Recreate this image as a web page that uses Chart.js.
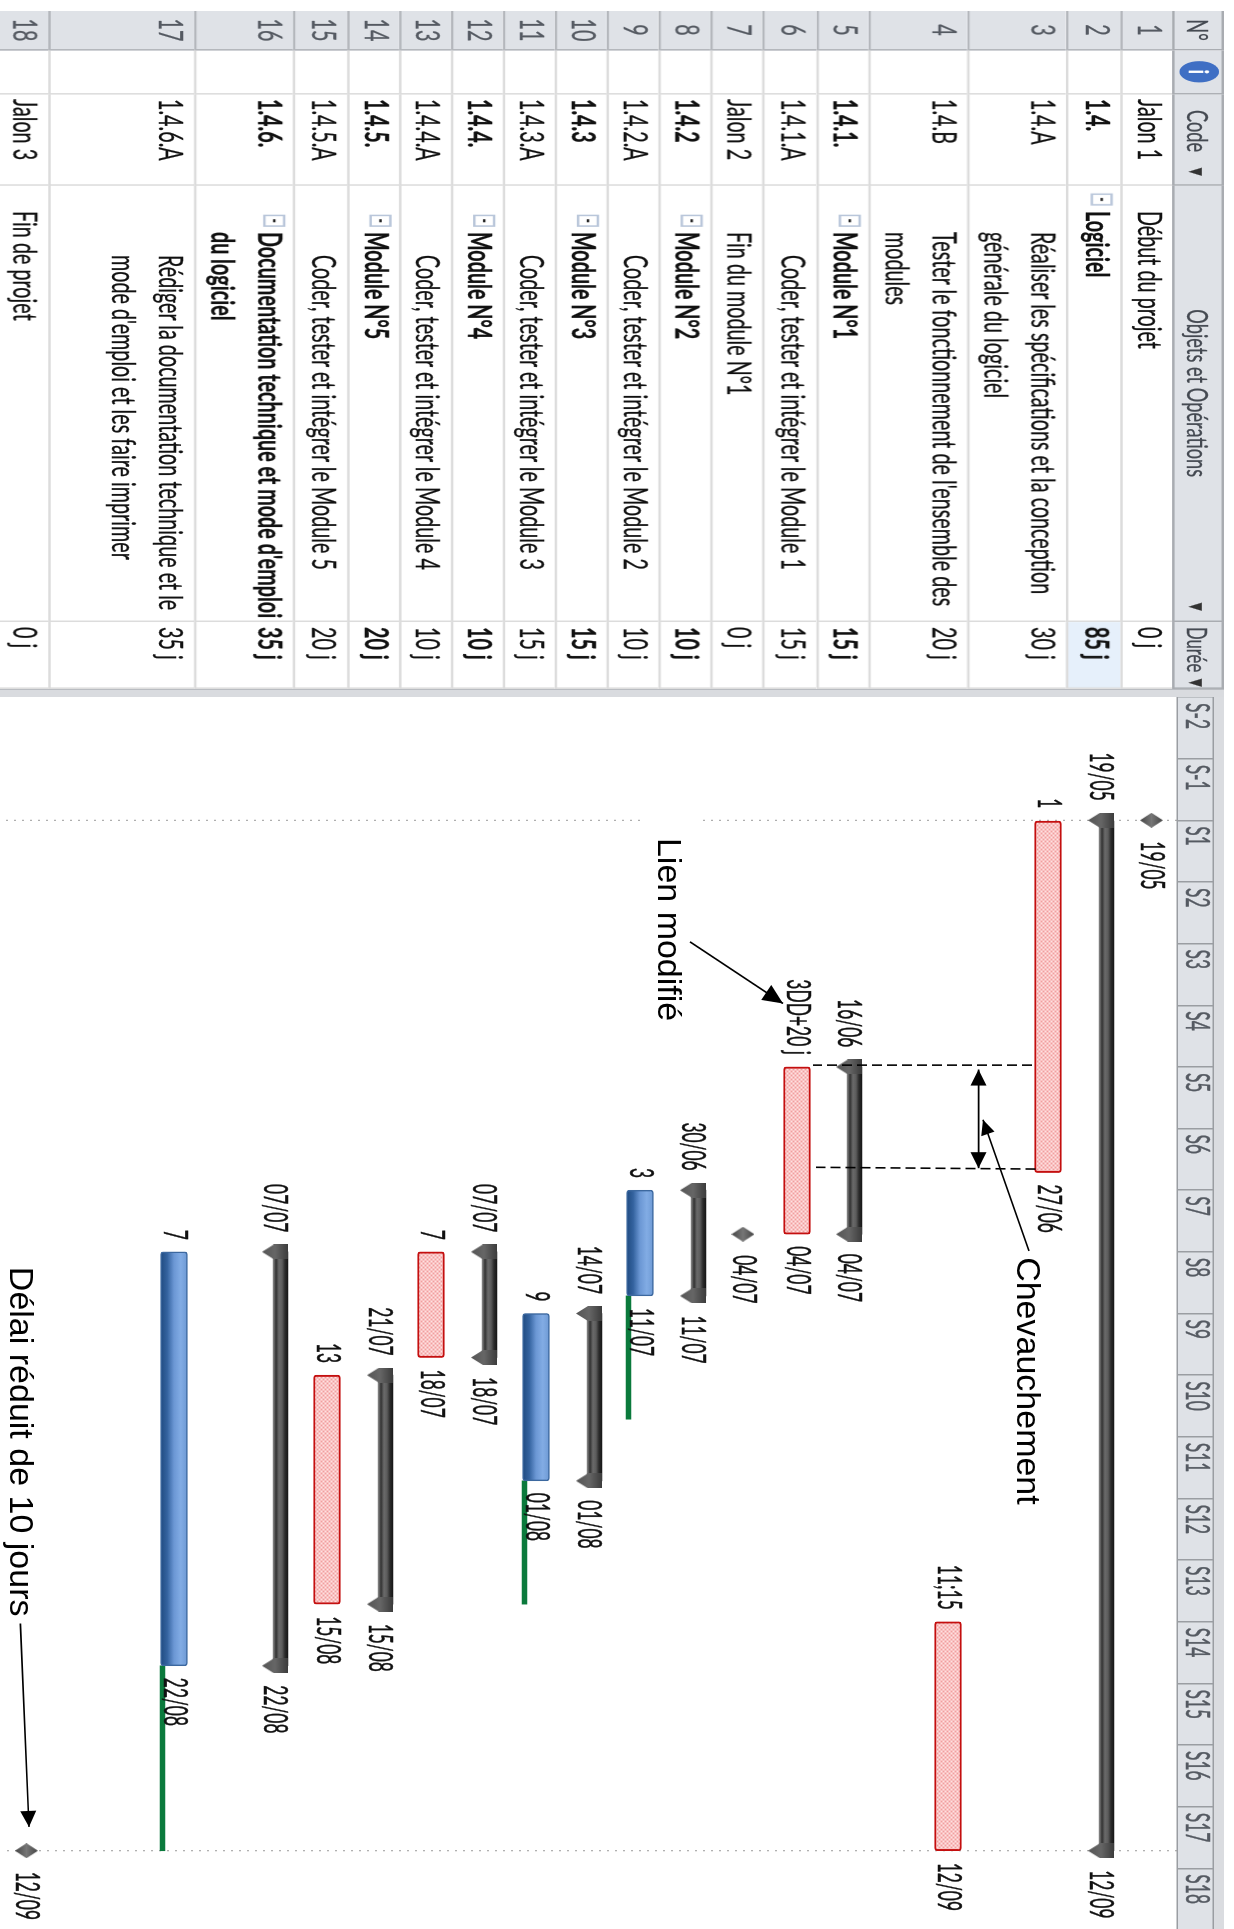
<!DOCTYPE html>
<html lang="fr">
<head>
<meta charset="utf-8">
<title>Planning du logiciel</title>
<script src="https://cdn.jsdelivr.net/npm/chart.js@4"></script>
<style>
  html, body { margin: 0; width: 1234px; height: 1929px; overflow: hidden; background: #fff; }
  #sheet { position: absolute; left: 1234px; top: 0; width: 1929px; height: 1234px; overflow: hidden;
           transform-origin: 0 0; transform: rotate(90deg); }
  #gantt { position: absolute; left: 697px; top: 0; }
  #splitter { position: absolute; left: 689px; top: 10px; width: 8px; height: 1224px; background: #d9dbdf;
              border-left: 1px solid #b9bcc1; box-sizing: border-box; }
  #grid { position: absolute; left: 11px; top: 10px; transform-origin: 0 0; transform: scale(1.52, 2.47);
          table-layout: fixed; border-collapse: separate; border-spacing: 0;
          font: 13px Lato, sans-serif; color: #111; -webkit-text-stroke: 0.12px currentColor; }
  #grid td, #grid th { position: relative; box-sizing: border-box; padding: 0; vertical-align: top; font-weight: normal; text-align: left;
          white-space: pre; line-height: 19px; border-right: 1px solid #dcdcdc; border-bottom: 1px solid #dcdcdc; overflow: visible; }
  #grid th { background: #dfe2e7; color: #454a52; border-color: #a9acb1; border-top: 1px solid #a9acb1; vertical-align: middle; font-size: 12px; }
  #grid td.num { background: #dfe2e7; color: #555a62; text-align: center; border-color: #b4b7bc; }
  #grid td.bold { font-weight: bold; }
  #grid td.picked { background: #e6f0fb; }
  .tri { position: absolute; top: 5px; font-size: 9px; line-height: 9px; color: #333; }
  .info { position: absolute; left: 7px; top: 1px; width: 14px; height: 16px; border-radius: 50%;
          background: #3f6fc4; color: #fff; font-weight: bold; font-size: 11px; line-height: 16px; text-align: center; }
  .box { position: absolute; top: 3px; width: 8px; height: 9px; border: 1px solid #b9c6da; background: #fff; box-sizing: border-box; }
  .box::after { content: ""; position: absolute; left: 2px; top: 3px; width: 2px; height: 1px; background: #222; }
</style>
</head>
<body>
<div id="sheet">
  <table id="grid"></table>
  <div id="splitter"></div>
  <canvas id="gantt" width="1233" height="1234"></canvas>
</div>
<script>
const taskCodes = ['Jalon 1', '1.4.', '1.4.A', '1.4.B', '1.4.1.', '1.4.1.A', 'Jalon 2', '1.4.2', '1.4.2.A', '1.4.3', '1.4.3.A', '1.4.4.', '1.4.4.A', '1.4.5.', '1.4.5.A', '1.4.6.', '1.4.6.A', 'Jalon 3'];
const taskNames = [
  'Début du projet', 'Logiciel',
  'Réaliser les spécifications et la conception\ngénérale du logiciel',
  "Tester le fonctionnement de l'ensemble des\nmodules",
  'Module N°1', 'Coder, tester et intégrer le Module 1', 'Fin du module N°1',
  'Module N°2', 'Coder, tester et intégrer le Module 2',
  'Module N°3', 'Coder, tester et intégrer le Module 3',
  'Module N°4', 'Coder, tester et intégrer le Module 4',
  'Module N°5', 'Coder, tester et intégrer le Module 5',
  "Documentation technique et mode d'emploi\ndu logiciel",
  "Rédiger la documentation technique et le\nmode d'emploi et les faire imprimer",
  'Fin de projet'
];
const taskDurations = ['0 j', '85 j', '30 j', '20 j', '15 j', '15 j', '0 j', '10 j', '10 j', '15 j', '15 j', '10 j', '10 j', '20 j', '20 j', '35 j', '35 j', '0 j'];
const taskLevels = [0, 0, 1, 1, 1, 2, 1, 1, 2, 1, 2, 1, 2, 1, 2, 1, 2, 0];

// M jalon, S récapitulative, R critique, B non critique
const taskKinds = ['M', 'S', 'R', 'R', 'S', 'R', 'M', 'S', 'B', 'S', 'B', 'S', 'R', 'S', 'R', 'S', 'B', 'M'];
const taskStarts = ['19/05', '19/05', '19/05', '18/08', '16/06', '16/06', '04/07', '30/06', '30/06', '14/07', '14/07', '07/07', '07/07', '21/07', '21/07', '07/07', '07/07', '12/09'];
const taskEnds = ['19/05', '12/09', '27/06', '12/09', '04/07', '04/07', '04/07', '11/07', '11/07', '01/08', '01/08', '18/07', '18/07', '15/08', '15/08', '22/08', '22/08', '12/09'];
const slackEnds = [null, null, null, null, null, null, null, null, '25/07', null, '15/08', null, null, null, null, null, '12/09', null];
const startLabels = ['', '19/05', '1', '11;15', '16/06', '3DD+20 j', '', '30/06', '3', '14/07', '9', '07/07', '7', '21/07', '13', '07/07', '7', ''];
const endLabels = ['19/05', '12/09', '27/06', '12/09', '04/07', '04/07', '04/07', '11/07', '11/07', '01/08', '01/08', '18/07', '18/07', '15/08', '15/08', '22/08', '22/08', '12/09'];
const weekLabels = ['S-2', 'S-1', 'S1', 'S2', 'S3', 'S4', 'S5', 'S6', 'S7', 'S8', 'S9', 'S10', 'S11', 'S12', 'S13', 'S14', 'S15', 'S16', 'S17', 'S18'];

const rowHeights = [53, 52, 100, 100, 51, 53, 52, 52, 52, 52, 53, 52, 52, 52, 53, 100, 146, 53];
const columnWidths = [39.5, 43.5, 92, 436, 67];
const levelIndents = [25, 46, 69];
const TEXT_SX = 1.52;
const TEXT_SY = 2.47;
const LABEL_SX = 1.34;

// Notes posées sur le planning, en jours et en position de ligne
const noteTexts = [
  { text: 'Lien modifié', day: 2, y: 520 },
  { text: 'Chevauchement', day: 49.6, y: 161 },
  { text: 'Délai réduit de 10 jours', day: 50.7, y: 1168 }
];
const noteArrows = [
  { from: [13.8, 488], to: [20.8, 395], len: 20, half: 9 },
  { from: [48.9, 149], to: [34.0, 195], len: 15, half: 7 },
  { from: [28.3, 199.4], to: [39.5, 199.4], len: 16, half: 8, both: true },
  { from: [91.2, 1157.6], to: [114.3, 1149], len: 16, half: 8 }
];
const overlapDashes = [
  [[27.8, 146], [27.8, 365]],
  [[39.6, 142.5], [39.4, 362]]
];

// Les dates se lisent en jours depuis le 19/05
function dayOf(date) {
  const [d, m] = date.split('/').map(Number);
  return { 5: 0, 6: 31, 7: 61, 8: 92, 9: 123 }[m] + d - 19;
}

const rowTops = [];
rowHeights.reduce((top, h, i) => { rowTops[i] = top; return top + h; }, 0);

function startDay(i) {
  if (taskKinds[i] === 'M') return i === 0 ? 0 : dayOf(taskEnds[i]) + 1;
  return dayOf(taskStarts[i]);
}
function endDay(i) {
  if (taskKinds[i] === 'M') return startDay(i);
  return dayOf(taskEnds[i]) + 1;
}
function barY(i) {
  if (taskKinds[i] === 'M') return rowTops[i] + rowHeights[i] / 2;
  return rowTops[i] + (taskKinds[i] === 'S' ? 18.5 : 25);
}
function labelY(i) {
  return taskKinds[i] === 'M' ? barY(i) : rowTops[i] + 25;
}
const rowsOf = kind => taskKinds.map((k, i) => (k === kind ? i : -1)).filter(i => i >= 0);

// Table des opérations
function buildGrid() {
  const grid = document.getElementById('grid');
  const px = w => (w / TEXT_SX) + 'px';
  const head = document.createElement('tr');
  head.style.height = (46 / TEXT_SY) + 'px';
  head.innerHTML =
    '<th style="width:' + px(columnWidths[0]) + ';text-align:center">N°</th>' +
    '<th style="width:' + px(columnWidths[1]) + '"><span class="info">i</span></th>' +
    '<th style="width:' + px(columnWidths[2]) + ';padding-left:' + px(16) + '">Code<span class="tri" style="left:' + px(71) + '">▼</span></th>' +
    '<th style="width:' + px(columnWidths[3]) + ';text-align:center;padding-right:' + px(20) + '">Objets et Opérations<span class="tri" style="left:' + px(414) + '">▼</span></th>' +
    '<th style="width:' + px(columnWidths[4]) + ';padding-left:' + px(5) + ';font-size:11px">Durée<span class="tri" style="left:' + px(54) + '">▼</span></th>';
  grid.appendChild(head);

  taskCodes.forEach((code, i) => {
    const tr = document.createElement('tr');
    tr.style.height = (rowHeights[i] / TEXT_SY) + 'px';
    const bold = taskKinds[i] === 'S';
    const cls = bold ? 'bold' : '';
    const add = (text, className, padLeft) => {
      const td = document.createElement('td');
      td.textContent = text;
      td.className = className;
      td.style.paddingLeft = px(padLeft);
      td.style.height = (rowHeights[i] / TEXT_SY) + 'px';
      tr.appendChild(td);
      return td;
    };
    add(String(i + 1), 'num', 0);
    add('', '', 0);
    add(code, cls, 5);
    const name = add(taskNames[i], cls, levelIndents[taskLevels[i]]);
    if (bold) {
      const box = document.createElement('span');
      box.className = 'box';
      box.style.left = px(levelIndents[taskLevels[i]] - 18);
      name.appendChild(box);
    }
    add(taskDurations[i], cls + (i === 1 ? ' picked' : ''), 5);
    grid.appendChild(tr);
  });
}
buildGrid();

function verticalFill(stops, half) {
  return context => {
    if (context.type !== 'data' || !context.chart.chartArea) return stops[0];
    const cy = context.chart.scales.y.getPixelForValue(context.parsed.y);
    const g = context.chart.ctx.createLinearGradient(0, cy - half, 0, cy + half);
    stops.forEach((c, i) => g.addColorStop(i / (stops.length - 1), c));
    return g;
  };
}

function tile(w, h, paint) {
  const c = document.createElement('canvas');
  c.width = w;
  c.height = h;
  paint(c.getContext('2d'));
  return c;
}

// Trame rose des tâches critiques
const redPattern = document.createElement('canvas').getContext('2d').createPattern(tile(4, 4, t => {
  t.fillStyle = '#f9c2c2';
  t.fillRect(0, 0, 4, 4);
  t.fillStyle = '#ef9f9f';
  t.fillRect(0, 0, 1, 1);
  t.fillRect(2, 2, 1, 1);
  t.fillStyle = '#fde2e2';
  t.fillRect(2, 0, 1, 1);
  t.fillRect(0, 2, 1, 1);
}), 'repeat');

// Embouts des barres récapitulatives
const capMark = tile(15, 26, t => {
  const g = t.createLinearGradient(0, 0, 0, 26);
  g.addColorStop(0, '#3c3c3c');
  g.addColorStop(0.5, '#666');
  g.addColorStop(1, '#555');
  t.fillStyle = g;
  t.beginPath();
  t.moveTo(0, 0);
  t.lineTo(15, 0);
  t.lineTo(15, 14);
  t.lineTo(7.5, 26);
  t.lineTo(0, 14);
  t.closePath();
  t.fill();
});

const milestoneMark = tile(15, 23, t => {
  const g = t.createLinearGradient(0, 0, 0, 23);
  g.addColorStop(0, '#444');
  g.addColorStop(0.5, '#767676');
  g.addColorStop(1, '#444');
  t.fillStyle = g;
  t.beginPath();
  t.moveTo(7.5, 0);
  t.lineTo(15, 11.5);
  t.lineTo(7.5, 23);
  t.lineTo(0, 11.5);
  t.closePath();
  t.fill();
});

function taskBars(kind, thickness, fill, border, borderWidth) {
  return {
    indexAxis: 'y',
    grouped: false,
    order: 4,
    barThickness: thickness,
    backgroundColor: fill,
    borderColor: border,
    borderWidth: borderWidth,
    borderRadius: borderWidth ? 3 : 0,
    borderSkipped: false,
    data: rowsOf(kind).map(i => ({ x: [startDay(i), endDay(i)], y: barY(i) }))
  };
}

function plainLine(points, color, dash, width, order) {
  return {
    type: 'line',
    order: order,
    borderColor: color,
    borderWidth: width,
    borderDash: dash,
    pointRadius: 0,
    fill: false,
    data: points.map(p => ({ x: p[0], y: p[1] }))
  };
}

const summaryRows = rowsOf('S');
const slackRows = slackEnds.map((e, i) => (e ? i : -1)).filter(i => i >= 0);

const datasets = [
  plainLine([[0, 1], [0, 475]], '#9a9a9a', [2, 6], 1, 8),
  plainLine([[0, 538], [0, 1173]], '#9a9a9a', [2, 6], 1, 8),
  plainLine([[endDay(17), 1], [endDay(17), 1173]], '#9a9a9a', [2, 6], 1, 8),
  {
    indexAxis: 'y',
    grouped: false,
    order: 6,
    barThickness: 5,
    backgroundColor: '#0b7a3c',
    data: slackRows.map(i => ({ x: [endDay(i), dayOf(slackEnds[i]) + 1], y: rowTops[i] + 36.5 }))
  },
  taskBars('S', 15, verticalFill(['#161616', '#2b2b2b', '#5c5c5c', '#6a6a6a', '#333333', '#8a8a8a'], 7.5), '#222', 0),
  taskBars('R', 27, redPattern, '#c40f0f', 2),
  taskBars('B', 27, verticalFill(['#6d99d4', '#82ace4', '#6b97d4', '#34639f', '#1f4a80'], 13.5), '#3c689f', 1.5),
  {
    type: 'scatter',
    order: 2,
    clip: false,
    pointStyle: capMark,
    pointRadius: 8,
    data: summaryRows.flatMap(i => [
      { x: startDay(i), y: rowTops[i] + 24 },
      { x: endDay(i), y: rowTops[i] + 24 }
    ])
  },
  {
    type: 'scatter',
    order: 1,
    clip: false,
    pointStyle: milestoneMark,
    pointRadius: 8,
    data: rowsOf('M').map(i => ({ x: startDay(i), y: barY(i) }))
  },
  ...overlapDashes.map(d => plainLine(d, '#000', [10, 5], 1.6, 0))
];

function stretchedText(ctx, text, px, py, align, color) {
  ctx.save();
  ctx.translate(px, py);
  ctx.scale(LABEL_SX, TEXT_SY);
  ctx.font = '13px Lato, sans-serif';
  ctx.textAlign = align;
  ctx.textBaseline = 'middle';
  ctx.fillStyle = color;
  ctx.strokeStyle = color;
  ctx.lineWidth = 0.2;
  ctx.fillText(text, 0, 0);
  ctx.strokeText(text, 0, 0);
  ctx.restore();
}

function arrowHead(ctx, x1, y1, x2, y2, len, half) {
  const a = Math.atan2(y2 - y1, x2 - x1);
  ctx.save();
  ctx.translate(x2, y2);
  ctx.rotate(a);
  ctx.beginPath();
  ctx.moveTo(0, 0);
  ctx.lineTo(-len, -half);
  ctx.lineTo(-len, half);
  ctx.closePath();
  ctx.fill();
  ctx.restore();
}

const ganttFurniture = {
  id: 'ganttFurniture',
  beforeDraw(chart) {
    const { ctx, chartArea: area } = chart;
    ctx.save();
    ctx.fillStyle = '#dadce0';
    ctx.fillRect(area.left, 10, area.width, 11);
    ctx.fillStyle = '#dfe2e7';
    ctx.fillRect(area.left, 21, area.width, area.top - 21);
    ctx.fillStyle = '#9a9da2';
    ctx.fillRect(area.left, 20, area.width, 1.5);
    ctx.fillRect(area.left, area.top - 1, area.width, 1.5);
    ctx.restore();
  },
  afterDatasetsDraw(chart) {
    const { ctx, scales: { x, y } } = chart;

    // En-tête des semaines
    weekLabels.forEach((label, i) => {
      stretchedText(ctx, label, x.getPixelForValue(-14 + 7 * i) + 6, 38, 'left', '#555a62');
    });

    // Dates et repères de chaque ligne
    taskKinds.forEach((kind, i) => {
      const cy = y.getPixelForValue(labelY(i));
      const pad = kind === 'M' ? 21 : kind === 'S' ? 19.5 : 12;
      if (startLabels[i]) stretchedText(ctx, startLabels[i], x.getPixelForValue(startDay(i)) - pad, cy, 'right', '#111');
      if (endLabels[i]) stretchedText(ctx, endLabels[i], x.getPixelForValue(endDay(i)) + pad, cy, 'left', '#111');
    });

    // Flèches et notes
    ctx.save();
    ctx.strokeStyle = '#000';
    ctx.fillStyle = '#000';
    ctx.lineWidth = 1.6;
    noteArrows.forEach(a => {
      const x1 = x.getPixelForValue(a.from[0]);
      const y1 = y.getPixelForValue(a.from[1]);
      const x2 = x.getPixelForValue(a.to[0]);
      const y2 = y.getPixelForValue(a.to[1]);
      ctx.beginPath();
      ctx.moveTo(x1, y1);
      ctx.lineTo(x2, y2);
      ctx.stroke();
      arrowHead(ctx, x1, y1, x2, y2, a.len, a.half);
      if (a.both) arrowHead(ctx, x2, y2, x1, y1, a.len, a.half);
    });
    ctx.font = '34px "Liberation Sans", Arial, sans-serif';
    ctx.textAlign = 'left';
    ctx.textBaseline = 'alphabetic';
    noteTexts.forEach(n => {
      ctx.fillText(n.text, x.getPixelForValue(n.day), y.getPixelForValue(n.y));
    });
    ctx.restore();
  }
};

new Chart(document.getElementById('gantt'), {
  type: 'bar',
  data: { datasets: datasets },
  plugins: [ganttFurniture],
  options: {
    responsive: false,
    animation: false,
    events: [],
    layout: { autoPadding: false, padding: { top: 21 } },
    plugins: { legend: { display: false }, tooltip: { enabled: false } },
    scales: {
      x: {
        type: 'linear',
        position: 'top',
        offset: false,
        min: -14,
        max: 126,
        ticks: { display: false, stepSize: 7, includeBounds: false },
        grid: { drawOnChartArea: false, drawTicks: true, tickLength: 36, color: '#9a9da2', lineWidth: 1.5, offset: false },
        border: { display: false }
      },
      y: {
        type: 'linear',
        display: false,
        offset: false,
        reverse: true,
        min: 1,
        max: 1178
      }
    }
  }
});
</script>
</body>
</html>
